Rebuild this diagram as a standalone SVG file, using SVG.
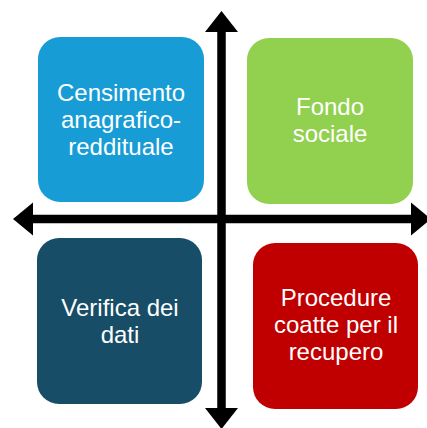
<svg xmlns="http://www.w3.org/2000/svg" width="427" height="428" viewBox="0 0 427 428">
<style>
.t{font-family:"Liberation Sans",Arial,sans-serif;font-size:24px;fill:#fff;text-anchor:middle}
.ax{stroke:#000;stroke-width:8.5;fill:none}
</style>
<rect width="427" height="428" fill="#fff"/>
<g id="censimento">
<rect x="38" y="37" width="166" height="165" rx="22" fill="#179CD6"/>
<text class="t" x="121" y="101">Censimento</text>
<text class="t" x="121" y="128">anagrafico-</text>
<text class="t" x="121" y="155">reddituale</text>
</g>
<g id="fondo">
<rect x="247" y="38" width="166" height="166" rx="22" fill="#92D050"/>
<text class="t" x="330" y="115">Fondo</text>
<text class="t" x="330" y="142">sociale</text>
</g>
<g id="verifica">
<rect x="37" y="238" width="165" height="166" rx="22" fill="#174D66"/>
<text class="t" x="120" y="316">Verifica dei</text>
<text class="t" x="120" y="343">dati</text>
</g>
<g id="procedure">
<rect x="253" y="243" width="165" height="166" rx="22" fill="#C00000"/>
<text class="t" x="336" y="306">Procedure</text>
<text class="t" x="336" y="333">coatte per il</text>
<text class="t" x="336" y="360">recupero</text>
</g>
<g id="connectors">
<line class="ax" x1="30" y1="219" x2="414" y2="219"/>
<line class="ax" x1="221.5" y1="29" x2="221.5" y2="411"/>
<polygon points="13,219 33,202.5 33,235.5" fill="#000"/>
<polygon points="431,219 411,202.5 411,235.5" fill="#000"/>
<polygon points="221.5,11 205,32 238,32" fill="#000"/>
<polygon points="221.5,429 205,408 238,408" fill="#000"/>
</g>
</svg>
